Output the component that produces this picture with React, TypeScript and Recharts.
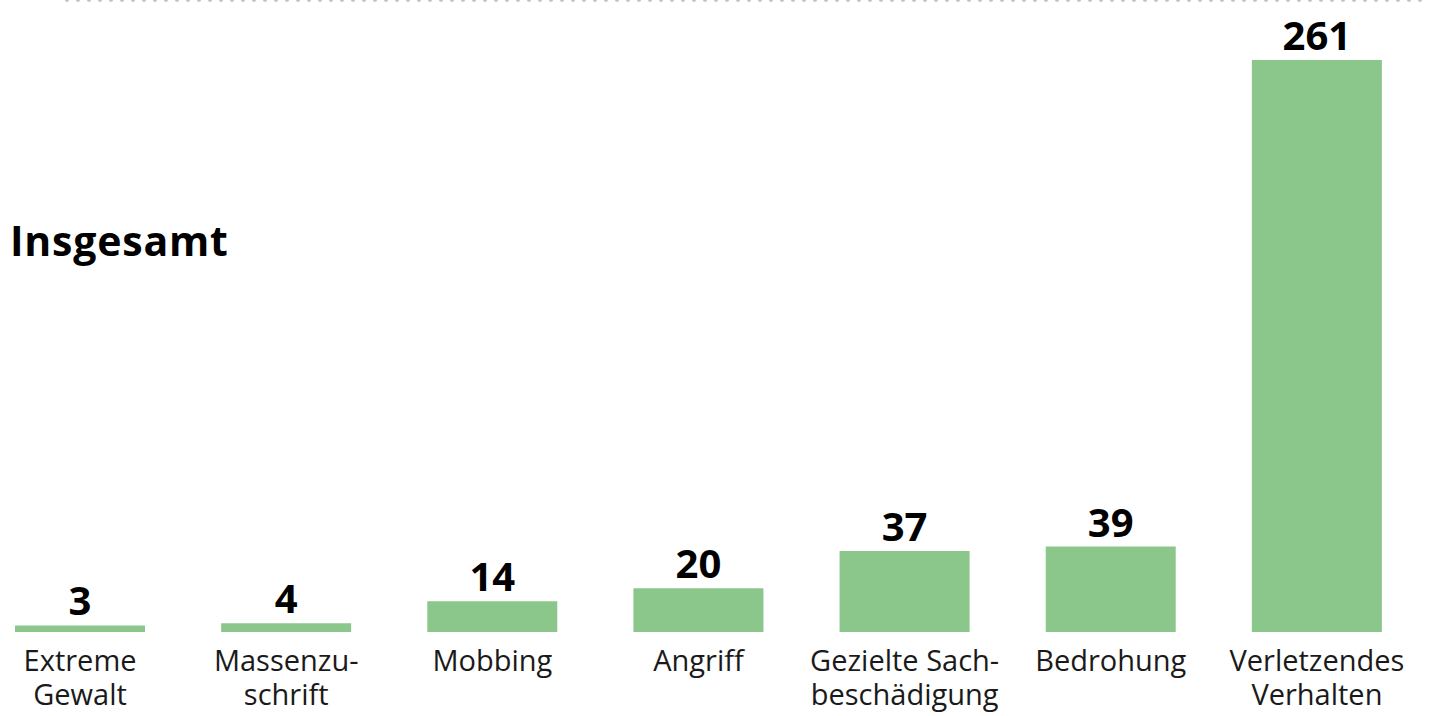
import React from "react";
import { BarChart, Bar, XAxis, YAxis, LabelList } from "recharts";

const categoriesLine1 = ["Extreme", "Massenzu-", "Mobbing", "Angriff", "Gezielte Sach-", "Bedrohung", "Verletzendes"];
const categoriesLine2 = ["Gewalt", "schrift", "", "", "beschädigung", "", "Verhalten"];
const values = [3, 4, 14, 20, 37, 39, 261];
const title = "Insgesamt";

const data = values.map((v, i) => ({
  name: categoriesLine1[i] + (categoriesLine2[i] ? " " + categoriesLine2[i] : ""),
  idx: i,
  value: v,
}));

const FONT = "'Open Sans', 'Noto Sans', sans-serif";

const CustomTick = (props: any) => {
  const { x, y, index } = props;
  const l1 = categoriesLine1[index];
  const l2 = categoriesLine2[index];
  return (
    <text x={x} y={y + 39} textAnchor="middle" fontFamily={FONT} fontSize={29} fill="#1a1a1a">
      <tspan x={x}>{l1}</tspan>
      {l2 ? (
        <tspan x={x} dy={34}>
          {l2}
        </tspan>
      ) : null}
    </text>
  );
};

export default function App() {
  return (
    <div style={{ position: "absolute", left: 0, top: 0, width: 1436, height: 716, overflow: "hidden", background: "#fff" }}>
      <div style={{ position: "absolute", left: -23, top: 0 }}>
        <BarChart width={1443} height={716} data={data} margin={{ top: 60, right: 0, bottom: 0, left: 0 }}>
          <XAxis
            dataKey="name"
            axisLine={false}
            tickLine={false}
            tickSize={0}
            tickMargin={0}
            height={84}
            interval={0}
            tick={(p: any) => <CustomTick {...p} />}
          />
          <YAxis hide domain={[0, 261]} />
          <Bar dataKey="value" fill="#8bc68b" barSize={130} isAnimationActive={false}>
            <LabelList
              dataKey="value"
              position="top"
              offset={10}
              fill="#000"
              fontFamily={FONT}
              fontWeight={700}
              fontSize={40}
            />
          </Bar>
        </BarChart>
      </div>
      <svg width={1436} height={716} style={{ position: "absolute", left: 0, top: 0, pointerEvents: "none" }}>
        <line x1={67} x2={1426} y1={0} y2={0} stroke="#c4c4c4" strokeWidth={4} strokeDasharray="0 11" strokeLinecap="round" />
        <text x={10} y={256} fontFamily={FONT} fontWeight={700} fontSize={41} letterSpacing={0.8} fill="#000">
          {title}
        </text>
      </svg>
    </div>
  );
}
